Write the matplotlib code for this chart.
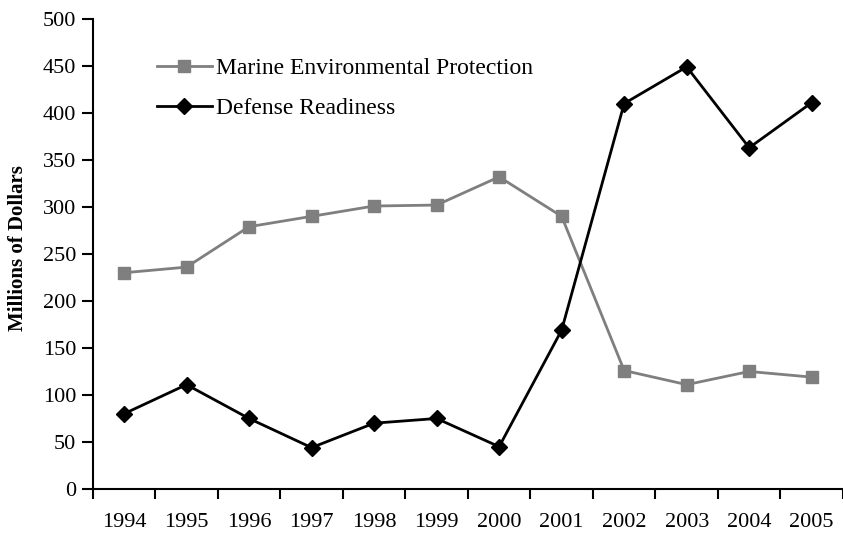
import numpy as np
import matplotlib
matplotlib.use('Agg')
import matplotlib.pyplot as plt

years = ['1994', '1995', '1996', '1997', '1998', '1999',
         '2000', '2001', '2002', '2003', '2004', '2005']
marine = [230, 236, 279, 290, 301, 302, 332, 290, 126, 111, 125, 119]
defense = [80, 111, 75, 44, 70, 75, 45, 169, 410, 449, 363, 411]

plt.rcParams['font.family'] = ['Liberation Serif', 'DejaVu Serif']

fig = plt.figure(figsize=(8.43, 5.36), dpi=100)
ax = fig.add_axes([0.110, 0.0877, 0.890, 0.877])

x = np.arange(len(years))
ax.plot(x, marine, color='#7f7f7f', lw=2, marker='s', ms=8.5,
        label='Marine Environmental Protection')
ax.plot(x, defense, color='black', lw=2, marker='D', ms=8.5,
        label='Defense Readiness')

ax.set_xlim(-0.5, 11.45)
ax.set_ylim(0, 500)
ax.set_yticks(np.arange(0, 501, 50))
ax.set_xticks(x)
ax.set_xticklabels(years)
ax.set_xticks(np.arange(-0.5, 11.6, 1), minor=True)
ax.tick_params(axis='x', which='major', length=0, pad=17, labelsize=16)
ax.tick_params(axis='x', which='minor', length=7, width=1.5, direction='out')
ax.tick_params(axis='y', length=8, width=1.5, direction='out', labelsize=16, pad=4)

for s in ['top', 'right']:
    ax.spines[s].set_visible(False)
for s in ['left', 'bottom']:
    ax.spines[s].set_linewidth(1.5)

ax.set_ylabel('Millions of Dollars', fontsize=15, fontweight='bold')
ax.yaxis.set_label_coords(-0.086, 0.513)

ax.legend(loc='upper left', bbox_to_anchor=(0.0853, 0.918), frameon=False,
          borderpad=0, borderaxespad=0, fontsize=17, handlelength=2.35,
          labelspacing=0.8, handletextpad=0.15)

fig.savefig('out.png', dpi=100)
